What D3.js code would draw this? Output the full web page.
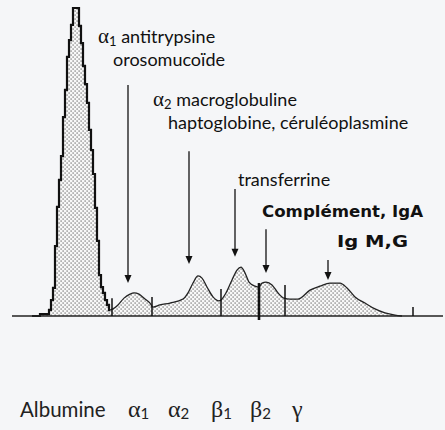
<!DOCTYPE html>
<html><head><meta charset="utf-8">
<script src="https://cdn.jsdelivr.net/npm/d3@7/dist/d3.min.js"></script>
<style>
html,body{margin:0;padding:0;background:#f5f6f8;}
svg{display:block;}
</style></head>
<body><svg id="c" width="445" height="430"></svg>
<script>
// migration distance (mm) vs. relative absorbance (% of albumin peak)
const albuminX = [4.0, 7.2, 7.6, 8.0, 8.4, 8.8, 9.2, 9.6, 10.0, 10.4, 10.8, 11.2, 11.6, 12.0, 12.4, 12.8, 13.2, 13.6, 14.0, 14.4, 14.8, 15.2, 15.6, 16.0, 16.4, 16.8, 17.2, 17.6, 18.0, 18.4, 18.8, 19.2, 19.6];
const albuminY = [0.0, 0.6, 2.0, 5.2, 9.1, 22.7, 35.4, 44.2, 51.9, 64.6, 73.4, 84.1, 89.6, 94.5, 100, 100, 100, 94.2, 88.6, 81.2, 75.3, 69.2, 60.4, 53.9, 46.1, 35.1, 24.4, 13.3, 9.4, 7.5, 5.2, 3.6, 1.9];
const globX = [19.6, 20.2, 21.2, 22.4, 23.6, 24.4, 25.4, 26.6, 27.6, 28.2, 29.6, 31.6, 34.2, 35.2, 36.2, 37.2, 38.0, 39.0, 40.2, 41.4, 41.8, 42.8, 44.0, 45.0, 45.8, 46.6, 47.4, 48.6, 49.4, 50.0, 50.8, 52.0, 53.2, 54.4, 55.6, 57.2, 59.6, 61.6, 63.6, 65.6, 67.0, 68.6, 70.6, 72.6, 74.6, 76.6, 78.0];
const globY = [1.9, 2.3, 3.6, 5.8, 7.1, 7.5, 7.1, 5.5, 4.2, 2.9, 3.6, 4.2, 5.5, 7.5, 10.7, 13.0, 12.3, 9.4, 6.2, 4.9, 5.2, 7.5, 11.7, 14.9, 15.9, 14.0, 11.0, 9.7, 9.4, 10.7, 11.0, 10.1, 7.5, 5.8, 5.5, 5.5, 8.4, 9.7, 10.7, 10.7, 9.1, 6.2, 4.2, 2.3, 1.0, 0.3, 0.0];
// fraction separators: position, top, bottom
const sepX = [20.0, 28.0, 41.8, 49.4, 54.6, 80.2];
const sepTop = [5.8, 6.2, 8.8, 10.7, 10.1, 2.9];
const sepBottom = [0, 0, 0, -1.3, 0, 0];
const sepWidth = [1.5, 1.5, 1.5, 2.6, 1.5, 1.5];
// annotation arrows: x, start level, tip level
const arrowX = [23.2, 35.4, 44.6, 50.8, 63.2];
const arrowFrom = [75.0, 53.5, 41.2, 28.2, 18.2];
const arrowTo = [10.7, 16.9, 19.2, 14.0, 11.7];
// fraction labels
const fracNames = ["α", "α", "β", "β", "γ"];
const fracSubs = ["1", "2", "1", "2", ""];

const svg = d3.select("#c");
const x = d3.scaleLinear().domain([0, 86.2]).range([12, 443]);
const y = d3.scaleLinear().domain([0, 100]).range([316, 8]);

const defs = svg.append("defs");
const pat = defs.append("pattern").attr("id", "dots").attr("patternUnits", "userSpaceOnUse")
  .attr("width", 4).attr("height", 4);
pat.append("rect").attr("width", 4).attr("height", 4).attr("fill", "#f8f8f8");
pat.append("rect").attr("x", 0.5).attr("y", 0.5).attr("width", 1.2).attr("height", 1.1).attr("fill", "#555");
pat.append("rect").attr("x", 2.5).attr("y", 2.5).attr("width", 1.2).attr("height", 1.1).attr("fill", "#555");

const alb = albuminX.map((v, i) => [v, albuminY[i]]);
const glob = globX.map((v, i) => [v, globY[i]]);

const areaStep = d3.area().x(d => x(d[0])).y0(y(0)).y1(d => y(d[1])).curve(d3.curveStep);
const lineStep = d3.line().x(d => x(d[0])).y(d => y(d[1])).curve(d3.curveStep);
const areaSm = d3.area().x(d => x(d[0])).y0(y(0)).y1(d => y(d[1])).curve(d3.curveMonotoneX);
const lineSm = d3.line().x(d => x(d[0])).y(d => y(d[1])).curve(d3.curveMonotoneX);

svg.append("path").attr("d", areaStep(alb)).attr("fill", "url(#dots)");
svg.append("path").attr("d", areaSm(glob)).attr("fill", "url(#dots)");
svg.append("path").attr("d", lineStep(alb)).attr("fill", "none").attr("stroke", "#111").attr("stroke-width", 2.2);
svg.append("path").attr("d", lineSm(glob)).attr("fill", "none").attr("stroke", "#222").attr("stroke-width", 1.3);

// baseline
svg.append("line").attr("x1", x(0)).attr("x2", x(86.2)).attr("y1", y(0)).attr("y2", y(0))
  .attr("stroke", "#222").attr("stroke-width", 1.5);

// separators
sepX.forEach((v, i) => {
  svg.append("line").attr("x1", x(v)).attr("x2", x(v)).attr("y1", y(sepTop[i])).attr("y2", y(sepBottom[i]))
    .attr("stroke", "#111").attr("stroke-width", sepWidth[i]);
});

// arrows
arrowX.forEach((v, i) => {
  const px = x(v), y1 = y(arrowFrom[i]), y2 = y(arrowTo[i]);
  svg.append("line").attr("x1", px).attr("x2", px).attr("y1", y1).attr("y2", y2 - 7)
    .attr("stroke", "#111").attr("stroke-width", 1.3);
  svg.append("path").attr("d", `M${px - 3.5},${y2 - 8} L${px + 3.5},${y2 - 8} L${px},${y2} Z`).attr("fill", "#111");
});

// annotation texts
const sans = "Lato, 'Open Sans', sans-serif";
const comic = "'DejaVu Sans', sans-serif";
const fs = 18;
function greekLabel(tx, ty, letter, sub, rest, size) {
  const t = svg.append("text").attr("x", tx).attr("y", ty).attr("fill", "#111")
    .style("font-family", sans).style("font-size", size + "px");
  t.append("tspan").text(letter).style("font-family", "'Liberation Serif', serif").style("font-size", (size + 3) + "px");
  t.append("tspan").text(sub).attr("dy", 3).style("font-size", (size - 5) + "px");
  t.append("tspan").text(rest).attr("dy", -3);
  return t;
}
greekLabel(98, 43, "α", "1", " antitrypsine", fs);
svg.append("text").attr("x", 113).attr("y", 66).text("orosomucoïde")
  .style("font-family", sans).style("font-size", fs + "px").attr("fill", "#111");
greekLabel(153, 106, "α", "2", " macroglobuline", fs);
svg.append("text").attr("x", 168).attr("y", 129).text("haptoglobine, céruléoplasmine")
  .style("font-family", sans).style("font-size", fs + "px").attr("fill", "#111");
svg.append("text").attr("x", 238).attr("y", 186).text("transferrine")
  .style("font-family", sans).style("font-size", fs + "px").attr("fill", "#111");
svg.append("text").attr("x", 262).attr("y", 217).text("Complément, IgA")
  .style("font-family", comic).style("font-weight", "bold").style("font-size", "16px").attr("fill", "#111")
  .attr("textLength", 161).attr("lengthAdjust", "spacingAndGlyphs");
svg.append("text").attr("x", 337).attr("y", 247).text("Ig M,G")
  .style("font-family", comic).style("font-weight", "bold").style("font-size", "16px").attr("fill", "#111")
  .attr("textLength", 71).attr("lengthAdjust", "spacingAndGlyphs");

// fraction names along the bottom
svg.append("text").attr("x", 20).attr("y", 417).text("Albumine")
  .style("font-family", sans).style("font-size", "20.5px").attr("fill", "#222");
const fracPos = [128, 168, 211, 250, 292];
fracNames.forEach((n, i) => {
  const t = svg.append("text").attr("x", fracPos[i]).attr("y", 417).attr("fill", "#222");
  t.append("tspan").text(n).style("font-family", "'Liberation Serif', serif").style("font-size", "24px");
  if (fracSubs[i]) t.append("tspan").text(fracSubs[i]).attr("dy", 2)
    .style("font-family", sans).style("font-size", "15px");
});
</script></body></html>
